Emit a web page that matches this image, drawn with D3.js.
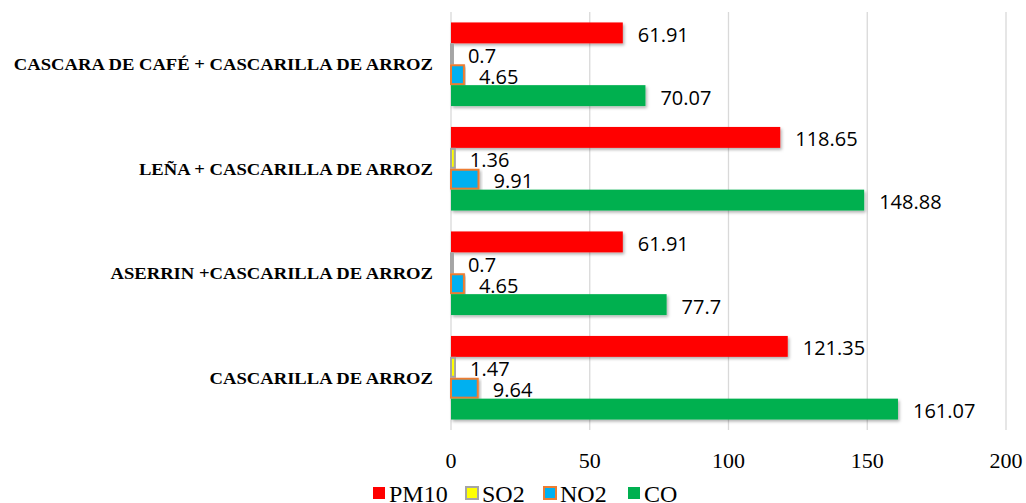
<!DOCTYPE html>
<html>
<head>
<meta charset="utf-8">
<script src="https://cdn.jsdelivr.net/npm/d3@7.9.0/dist/d3.min.js"></script>
<style>
  body { margin: 0; background: #fff; }
</style>
</head>
<body>
<div id="vis"></div>
<script>
const width = 1026, height = 503;

const categories = [
  "CASCARA DE CAFÉ + CASCARILLA DE ARROZ",
  "LEÑA + CASCARILLA DE ARROZ",
  "ASERRIN +CASCARILLA DE ARROZ",
  "CASCARILLA DE ARROZ"
];
const seriesNames = ["PM10", "SO2", "NO2", "CO"];
const pm10 = [61.91, 118.65, 61.91, 121.35];
const so2 = [0.7, 1.36, 0.7, 1.47];
const no2 = [4.65, 9.91, 4.65, 9.64];
const co = [70.07, 148.88, 77.7, 161.07];
const xTicks = [0, 50, 100, 150, 200];

const values = [pm10, so2, no2, co];
const fills = ["#ff0000", "#ffff00", "#00b0f0", "#00b050"];
const strokes = ["none", "#a5a5a5", "#ed7d31", "none"];

const svg = d3.select("#vis").append("svg")
    .attr("width", width)
    .attr("height", height);

const defs = svg.append("defs");
const shadow = defs.append("filter").attr("id", "shadow")
    .attr("x", "-5%").attr("y", "-20%").attr("width", "120%").attr("height", "160%");
shadow.append("feDropShadow")
    .attr("dx", 1.5).attr("dy", 2).attr("stdDeviation", 1.5)
    .attr("flood-color", "#000").attr("flood-opacity", 0.3);

const x = d3.scaleLinear().domain([0, 200]).range([451, 1006]);
const y = d3.scaleBand().domain(categories).range([12, 430]).paddingInner(0.2).paddingOuter(0.1);
const ySub = d3.scaleBand().domain(seriesNames).range([0, y.bandwidth()]);

// gridlines
svg.append("g")
  .selectAll("line")
  .data(xTicks)
  .enter().append("line")
    .attr("x1", d => x(d)).attr("x2", d => x(d))
    .attr("y1", 12).attr("y2", 430)
    .attr("stroke", "#d9d9d9")
    .attr("stroke-width", 1.3);

// x tick labels
svg.append("g")
  .selectAll("text")
  .data(xTicks)
  .enter().append("text")
    .attr("x", d => x(d))
    .attr("y", 468)
    .attr("text-anchor", "middle")
    .attr("font-family", "Liberation Serif, Times New Roman, serif")
    .attr("font-size", 22)
    .attr("fill", "#000")
    .text(d => d);

// category labels (slightly stretched, like the original)
svg.append("g")
  .selectAll("text")
  .data(categories)
  .enter().append("text")
    .attr("x", 433)
    .attr("y", d => y(d) + y.bandwidth() / 2)
    .attr("dy", "0.35em")
    .attr("text-anchor", "end")
    .attr("font-family", "Liberation Serif, Times New Roman, serif")
    .attr("font-weight", "bold")
    .attr("font-size", 17)
    .attr("fill", "#000")
    .text(d => d)
    .each(function () {
      const w = this.getComputedTextLength();
      d3.select(this)
        .attr("textLength", w * 1.095)
        .attr("lengthAdjust", "spacingAndGlyphs");
    });

// bars
const groups = svg.append("g")
  .selectAll("g")
  .data(seriesNames)
  .enter().append("g");

groups.each(function (s, si) {
  const g = d3.select(this);
  const rows = categories.map((c, i) => ({ c, v: values[si][i] }));
  const inset = strokes[si] === "none" ? 0 : 1;
  g.selectAll("rect")
    .data(rows)
    .enter().append("rect")
      .attr("x", x(0))
      .attr("y", d => y(d.c) + ySub(s) + inset)
      .attr("width", d => x(d.v) - x(0))
      .attr("height", ySub.bandwidth() - inset * 2)
      .attr("fill", fills[si])
      .attr("stroke", strokes[si])
      .attr("stroke-width", 2)
      .attr("filter", "url(#shadow)");
  g.selectAll("text")
    .data(rows)
    .enter().append("text")
      .attr("x", d => x(d.v) + 15)
      .attr("y", d => y(d.c) + ySub(s) + ySub.bandwidth() / 2 + 2)
      .attr("dy", "0.35em")
      .attr("font-family", "Open Sans, Liberation Sans, sans-serif")
      .attr("font-size", 20)
      .attr("fill", "#000")
      .text(d => d.v);
});

// legend
const legendX = [373, 466, 544, 628];
const legend = svg.append("g")
  .selectAll("g")
  .data(seriesNames)
  .enter().append("g")
    .attr("transform", (d, i) => `translate(${legendX[i]},487)`);
legend.append("rect")
    .attr("width", 12).attr("height", 12)
    .attr("fill", (d, i) => fills[i])
    .attr("stroke", (d, i) => strokes[i])
    .attr("stroke-width", 2);
legend.append("text")
    .attr("x", 16)
    .attr("y", 15)
    .attr("font-family", "Liberation Serif, Times New Roman, serif")
    .attr("font-size", 24)
    .attr("fill", "#000")
    .text(d => d);
</script>
</body>
</html>
